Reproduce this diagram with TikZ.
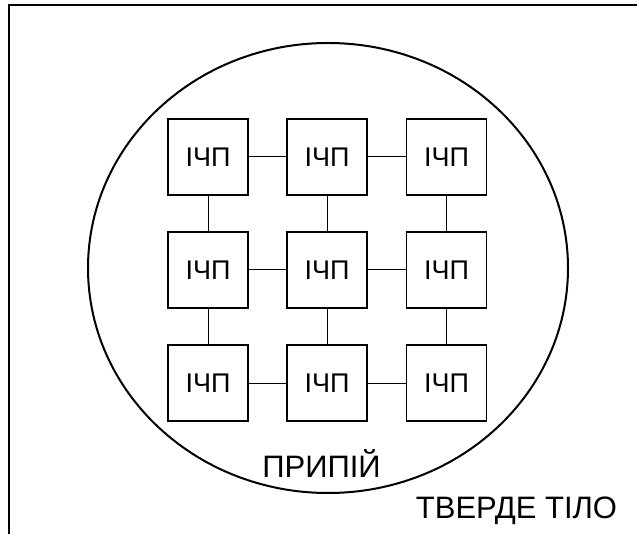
\documentclass[tikz,border=0pt]{standalone}
\usepackage{fontspec}
\setmainfont{Liberation Sans}
\begin{document}
\begin{tikzpicture}[x=1pt,y=-1pt,
  unit/.style={draw, line width=1.9pt, minimum width=80pt, minimum height=76pt,
               inner sep=0pt, font=\fontsize{27}{30}\selectfont},
  link/.style={line width=1pt},
  caption/.style={anchor=base, inner sep=0pt, font=\fontsize{31}{34}\selectfont}]
  \useasboundingbox (0,0) rectangle (637,534);
  % outer body frame (only its top and left edges fall inside the page)
  \draw[line width=2pt] (9,540) -- (9,5) -- (640,5);
  % solder region
  \draw[line width=2pt] (328,268) ellipse [x radius=240pt, y radius=225pt];
  % 3x3 grid of units
  \foreach \c/\x in {1/208,2/327,3/446.5}{
    \foreach \r/\y in {1/157,2/270,3/383}{
      \node[unit] (u\r\c) at (\x,\y) {ІЧП};
    }
  }
  % horizontal links
  \foreach \r in {1,2,3}{
    \draw[link] (u\r1) -- (u\r2);
    \draw[link] (u\r2) -- (u\r3);
  }
  % vertical links
  \foreach \c in {1,2,3}{
    \draw[link] (u1\c) -- (u2\c);
    \draw[link] (u2\c) -- (u3\c);
  }
  \node[caption] (solder) at (321.5,477) {ПРИПІЙ};
  \node[caption] (body) at (516.5,518) {ТВЕРДЕ ТІЛО};
\end{tikzpicture}
\end{document}
